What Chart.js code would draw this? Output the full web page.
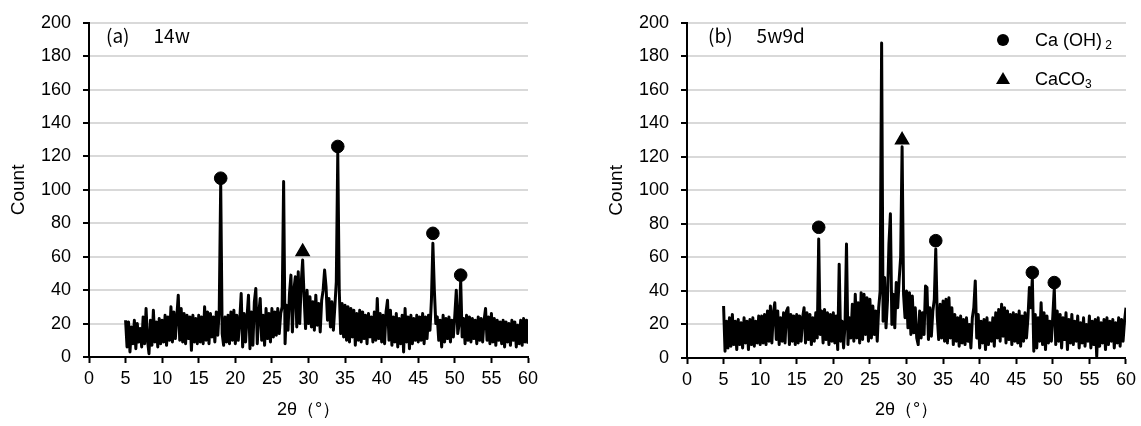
<!DOCTYPE html>
<html>
<head>
<meta charset="utf-8">
<script src="https://cdn.jsdelivr.net/npm/chart.js@4.4.0/dist/chart.umd.min.js"></script>
<style>
body { margin: 0; background: #fff; width: 1141px; height: 426px; position: relative; overflow: hidden; }
canvas { position: absolute; top: 0; }
#chartA { left: 0; }
#chartB { left: 598px; }
.panel { position: absolute; top: 24px; font-family: "Noto Sans CJK JP", sans-serif; font-size: 19px; line-height: 22px; white-space: pre; color: #000; }
.panel span { margin-left: 24px; }
.lg { position: absolute; left: 1035px; font-family: "Liberation Sans", sans-serif; font-size: 18px; line-height: 20px; color: #000; white-space: pre; }
.lg sub { font-size: 12px; vertical-align: -3px; }
.dot { position: absolute; left: 997px; top: 34px; width: 12px; height: 12px; border-radius: 50%; background: #000; }
.tri { position: absolute; left: 996px; top: 72px; width: 14px; height: 12px; background: #000; clip-path: polygon(50% 0, 100% 100%, 0 100%); }
</style>
</head>
<body>
<canvas id="chartA" width="560" height="426"></canvas>
<canvas id="chartB" width="543" height="426"></canvas>
<div class="panel" style="left:106px">(a)<span>14w</span></div>
<div class="panel" style="left:708px">(b)<span>5w9d</span></div>
<div class="dot"></div>
<div class="lg" style="top:30px">Ca (OH)<sub> 2</sub></div>
<div class="tri"></div>
<div class="lg" style="top:69px">CaCO<sub>3</sub></div>
<script>
// 2θ grid: 5.0° to 60.0° every 0.2°
const startDeg = 5;
const stepDeg = 0.2;

// (a) 14w
const countsA = [
  22, 6, 21, 3, 18, 8, 22, 5, 20, 9, 17, 6, 24, 8, 29, 10, 2, 22, 7, 28, 9, 21, 6, 23, 8,
  22, 9, 25, 7, 24, 10, 30, 9, 27, 11, 24, 37, 10, 29, 9, 26, 8, 25, 11, 24, 4, 25, 9, 23, 8,
  25, 9, 24, 8, 30, 10, 27, 8, 26, 12, 24, 9, 27, 13, 28, 104, 14, 7, 24, 9, 25, 8, 27, 10, 28,
  8, 25, 10, 22, 38, 6, 26, 9, 24, 37, 5, 27, 7, 33, 41, 8, 26, 35, 10, 25, 7, 29, 11, 26, 9,
  29, 12, 27, 13, 29, 14, 26, 30, 105, 8, 31, 16, 38, 49, 15, 40, 48, 18, 51, 20, 44, 58, 36, 17, 40,
  20, 36, 18, 33, 16, 37, 19, 32, 15, 34, 40, 52, 42, 22, 35, 18, 33, 16, 30, 45, 122, 40, 14, 32, 12,
  31, 10, 30, 9, 29, 12, 28, 7, 26, 10, 28, 9, 27, 11, 25, 8, 26, 12, 24, 9, 27, 10, 35, 11, 26,
  9, 25, 8, 27, 34, 10, 28, 7, 24, 9, 26, 6, 23, 8, 25, 3, 29, 9, 24, 5, 25, 8, 23, 10, 25,
  9, 24, 10, 26, 8, 24, 11, 25, 16, 34, 68, 40, 20, 24, 10, 22, 6, 25, 9, 23, 11, 24, 9, 22, 12,
  25, 40, 14, 20, 46, 12, 23, 8, 25, 10, 24, 9, 23, 11, 22, 8, 24, 10, 23, 9, 22, 29, 10, 24, 8,
  26, 9, 23, 7, 22, 10, 21, 8, 22, 6, 21, 9, 20, 7, 22, 10, 21, 6, 19, 8, 22, 7, 23, 9, 22, 8
];

// (b) 5w9d
const countsB = [
  31, 4, 22, 6, 24, 7, 26, 8, 22, 5, 23, 8, 21, 6, 24, 9, 22, 5, 23, 8, 24, 7, 22, 9, 25,
  8, 25, 9, 26, 8, 28, 10, 31, 9, 27, 33, 11, 28, 8, 24, 10, 27, 9, 28, 30, 8, 26, 10, 25, 8,
  26, 9, 25, 10, 24, 30, 9, 27, 11, 26, 8, 24, 10, 27, 12, 71, 14, 28, 9, 29, 11, 27, 8, 26, 10,
  27, 9, 25, 5, 56, 10, 22, 6, 20, 68, 8, 24, 12, 32, 10, 38, 12, 33, 9, 39, 11, 38, 14, 36, 10,
  35, 12, 31, 14, 28, 10, 30, 40, 188, 22, 48, 18, 34, 68, 86, 20, 38, 18, 45, 30, 47, 60, 126, 38, 24,
  40, 18, 39, 14, 37, 15, 30, 12, 8, 28, 12, 27, 14, 43, 42, 11, 30, 13, 28, 35, 65, 25, 11, 32, 12,
  34, 10, 35, 9, 36, 12, 30, 8, 26, 10, 24, 7, 25, 9, 23, 8, 24, 10, 20, 6, 24, 30, 46, 12, 26,
  6, 22, 9, 23, 5, 24, 8, 21, 10, 24, 7, 27, 12, 29, 10, 32, 13, 30, 9, 28, 11, 26, 8, 27, 10,
  26, 9, 28, 7, 25, 10, 27, 12, 24, 42, 30, 48, 4, 26, 6, 24, 10, 33, 8, 27, 5, 25, 9, 22, 10,
  25, 42, 8, 28, 10, 26, 6, 24, 11, 27, 5, 23, 9, 26, 8, 22, 10, 25, 6, 21, 9, 24, 7, 20, 10,
  25, 6, 22, 8, 23, 1, 24, 7, 21, 9, 23, 5, 24, 8, 22, 10, 23, 6, 21, 9, 24, 7, 23, 10, 22, 30
];

// peak markers (2θ, count)
const caOHA = [[18.0, 107], [34.0, 126], [47.0, 74], [50.8, 49]];
const caCO3A = [[29.2, 63]];
const caOHB = [[18.0, 78], [34.0, 70], [47.2, 51], [50.2, 45]];
const caCO3B = [[29.4, 130]];

const xTicks = [0, 5, 10, 15, 20, 25, 30, 35, 40, 45, 50, 55, 60];
const yTicks = [0, 20, 40, 60, 80, 100, 120, 140, 160, 180, 200];

function toPoints(counts) {
  return counts.map((c, i) => ({ x: +(startDeg + i * stepDeg).toFixed(1), y: c }));
}
function toMarks(arr) {
  return arr.map(p => ({ x: p[0], y: p[1] }));
}

function makeChart(id, counts, ohMarks, co3Marks, padRight, xHeight) {
  const ctx = document.getElementById(id).getContext('2d');
  return new Chart(ctx, {
    type: 'line',
    data: {
      datasets: [
        {
          data: toPoints(counts),
          borderColor: '#000',
          borderWidth: 3,
          borderJoinStyle: 'round',
          pointRadius: 0,
          tension: 0,
          order: 2
        },
        {
          type: 'scatter',
          data: toMarks(ohMarks),
          pointStyle: 'circle',
          pointRadius: 6.3,
          backgroundColor: '#000',
          borderColor: '#000',
          order: 1
        },
        {
          type: 'scatter',
          data: toMarks(co3Marks),
          pointStyle: 'triangle',
          pointRadius: 7.5,
          backgroundColor: '#000',
          borderColor: '#000',
          borderJoinStyle: 'round',
          borderWidth: 1.5,
          order: 1
        }
      ]
    },
    options: {
      responsive: false,
      animation: false,
      devicePixelRatio: 1,
      layout: { padding: { top: 20, right: padRight, bottom: 0, left: 0 } },
      plugins: { legend: { display: false }, tooltip: { enabled: false } },
      scales: {
        x: {
          type: 'linear',
          min: 0,
          max: 60,
          afterBuildTicks: s => { s.ticks = xTicks.map(v => ({ value: v })); },
          afterFit: s => { s.height = xHeight; },
          grid: { drawOnChartArea: false, drawTicks: true, tickLength: 6, tickColor: '#000', tickWidth: 2 },
          border: { color: '#000', width: 2 },
          ticks: { color: '#000', padding: 5, maxRotation: 0, font: { family: 'Liberation Sans', size: 18 } },
          title: { display: true, text: '2θ（°）', color: '#000', padding: { top: 0, bottom: 5 }, font: { family: 'Liberation Sans', size: 18 } }
        },
        y: {
          min: 0,
          max: 200,
          afterBuildTicks: s => { s.ticks = yTicks.map(v => ({ value: v })); },
          afterFit: s => { s.width = 89; },
          grid: { color: '#d9d9d9', lineWidth: 2, drawTicks: true, tickLength: 6, tickColor: '#000', tickWidth: 2 },
          border: { color: '#000', width: 2 },
          ticks: { color: '#000', padding: 12, font: { family: 'Liberation Sans', size: 18 } },
          title: { display: true, text: 'Count', color: '#000', padding: { top: 7, bottom: 0 }, font: { family: 'Liberation Sans', size: 19 } }
        }
      }
    }
  });
}

makeChart('chartA', countsA, caOHA, caCO3A, 32, 69);
makeChart('chartB', countsB, caOHB, caCO3B, 14, 68);
</script>
</body>
</html>
